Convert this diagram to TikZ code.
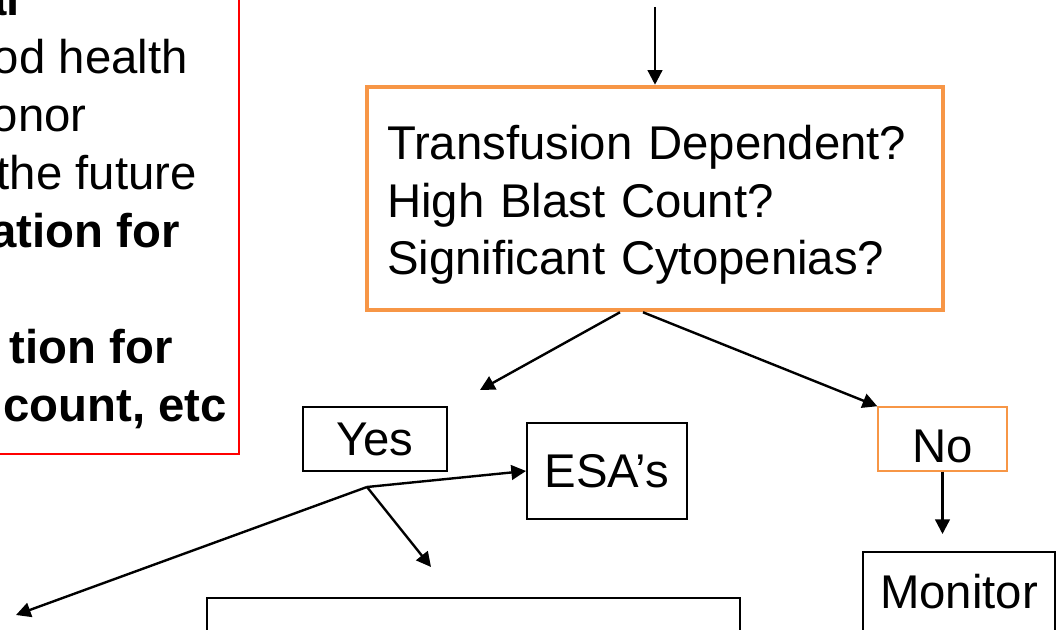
\documentclass[tikz,border=0pt]{standalone}
\usepackage{fontspec}
\setmainfont{Liberation Sans}
\usepackage{xcolor}
\usetikzlibrary{arrows.meta,calc}
\definecolor{qorange}{RGB}{247,150,70}

\begin{document}
\begin{tikzpicture}[x=0.75pt, y=-0.75pt, font=\fontsize{35.5}{43}\selectfont,
  box/.style={draw, line width=1.5pt, inner sep=0pt},
  arr/.style={-{Triangle[length=11pt,width=11pt]}, line width=1.8pt}]
\useasboundingbox (0,0) rectangle (1058,630);
\clip (0,0) rectangle (1058,630);
% notes panel, running off the left edge
\draw[red, line width=1.5pt] (-20,-20) rectangle (239,454);
\foreach \i/\xx/\yy/\txt in {1/20/16/{\bfseries al}, 2/188/74/{od health},
    3/87/132/{onor}, 4/197/190/{the future}, 5/180/248/{\bfseries ation for},
    6/173/364/{\bfseries tion for}, 7/227/422/{\bfseries count, etc}}
  \node[anchor=base east, inner sep=0pt] (note\i) at (\xx,\yy) {\txt};
% decision box
\node[box, draw=qorange, line width=3.4pt, minimum width=432pt, minimum height=167.25pt,
  align=left, text width=402pt] (quest) at (655,198.5)
  {\rule{0pt}{36pt}Transfusion Dependent?\\High Blast Count?\\Significant Cytopenias?\rule[-7.8pt]{0pt}{7.8pt}};
% answers and follow-ups
\node[box, minimum width=108pt, minimum height=48pt] (yes) at (375,439) {Yes};
\node[box, draw=qorange, line width=1.1pt, minimum width=96.75pt, minimum height=48pt,
  text height=35pt] (no) at (942.5,439) {No};
\node[box, minimum width=120pt, minimum height=72pt] (esa) at (607,471) {ESA’s};
\node[box, minimum width=144pt, minimum height=60pt] (mon) at (959,592) {Monitor};
\node[box, minimum width=399.75pt, minimum height=75pt] (plan) at (473.5,648) {};
% arrows
\coordinate (feed) at (655,7);
\draw[arr] (feed) -- (quest.north);
\coordinate (yesend) at (480,390);
\draw[arr] ($(quest.south)+(-35,0)$) -- (yesend);
\draw[arr] ($(quest.south)+(-12,0)$) -- (no.north west);
\coordinate (monend) at (942.5,534);
\draw[arr] (no.south) -- (monend);
% fan out under the Yes box
\coordinate (fork) at (367,487);
\coordinate (farleft) at (16,615);
\coordinate (planend) at (431,567);
\draw[arr] (fork) -- (esa.west);
\draw[arr] (fork) -- (planend);
\draw[arr] (fork) -- (farleft);
\end{tikzpicture}
\end{document}
